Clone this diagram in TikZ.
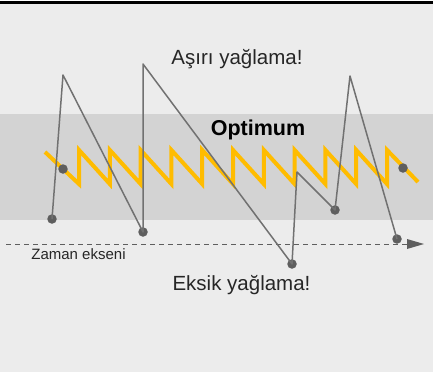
\documentclass[tikz,border=0pt]{standalone}
\usepackage{fontspec}
\setmainfont{Liberation Sans}
\usepackage{tikz}
\usetikzlibrary{arrows.meta}
\definecolor{bgpanel}{HTML}{ECECEC}
\definecolor{optband}{HTML}{D3D3D3}
\definecolor{oilyellow}{HTML}{FFBC00}
\definecolor{traceline}{HTML}{717171}
\definecolor{dotgray}{HTML}{5E5E5E}

\begin{document}
\begin{tikzpicture}[
    x=1pt, y=-1pt,
    dot/.style={circle, fill=dotgray, inner sep=0pt, minimum size=9.5pt},
    trace/.style={traceline, line width=1.5pt, line join=round},
    zigzag/.style={oilyellow, line width=4pt, line join=miter},
    axis/.style={dotgray, line width=1pt, dash pattern=on 5pt off 4pt},
    label/.style={anchor=base, text=black!85, font=\fontsize{20.5}{24}\selectfont},
]
\useasboundingbox (0,0) rectangle (433,372);

% panel
\fill[bgpanel] (0,0) rectangle (433,372);
\fill[white] (0,0) rectangle (433,1);
\fill[black] (0,1) rectangle (433,4);
\fill[optband] (0,114) rectangle (433,220);

% optimum saw line
\draw[zigzag] (45,152) -- (79,184)
    foreach \i in {1,...,10} { -- ++(0,-34) -- ++(30.8,34) }
    -- ++(0,-34) -- (418,182);

% time axis
\coordinate (axstart) at (6,244);
\coordinate (axend) at (424,244);
\draw[axis] (axstart) -- (407,244);
\fill[dotgray] (axend) -- (407,239) -- (407,249) -- cycle;

% dots and turning points
\node[dot] (zstart) at (63,169) {};
\node[dot] (zend) at (403,168) {};
\node[dot] (low1) at (52,219) {};
\node[dot] (low2) at (143,232) {};
\node[dot] (low3) at (292,264) {};
\node[dot] (low4) at (335,210) {};
\node[dot] (low5) at (397,239) {};
\coordinate (peak1) at (63,75);
\coordinate (peak2) at (143,64);
\coordinate (knee) at (297,172);
\coordinate (peak3) at (350,76);

\draw[trace] (low1.center) -- (peak1) -- (low2.center) -- (peak2) -- (low3.center)
    -- (knee) -- (low4.center) -- (peak3) -- (low5.center);

% labels
\node[label] (over) at (237,64) {Aşırı yağlama!};
\node[label, font=\fontsize{21.5}{25}\bfseries, text=black] (optimum) at (258,135) {Optimum};
\node[label] (under) at (241.5,290) {Eksik yağlama!};
\node[label, font=\fontsize{15}{18}\selectfont] (timeaxis) at (78.5,259) {Zaman ekseni};

\end{tikzpicture}
\end{document}
